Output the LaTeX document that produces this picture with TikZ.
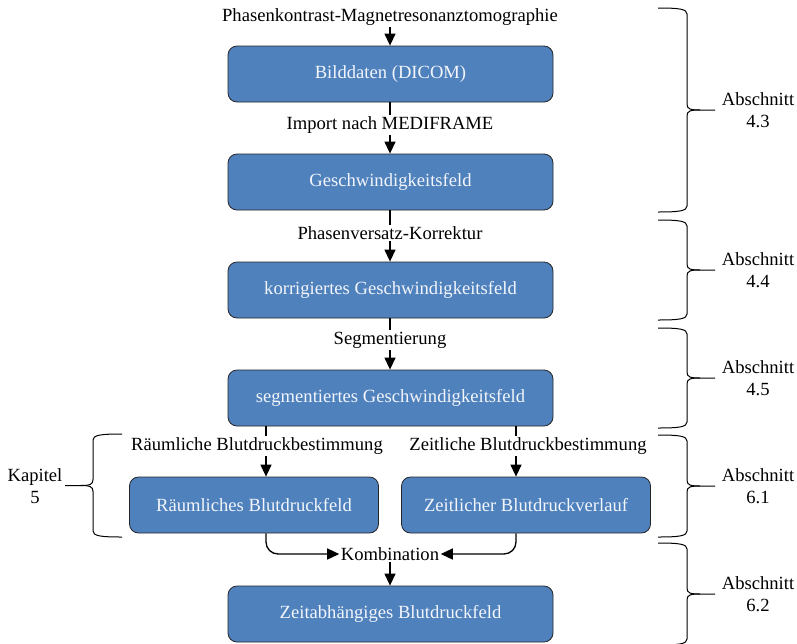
\documentclass[tikz,border=0pt]{standalone}
\usepackage{fontspec}
\setmainfont{Liberation Serif}
\usetikzlibrary{arrows.meta}
\definecolor{boxblue}{HTML}{4F81BD}
\definecolor{boxtext}{HTML}{F2F5FA}
\newcommand\fs{\fontsize{18.6}{21.5}\selectfont}
\newcommand\rbr[5]{%
  \pgfmathsetmacro\ym{(#4+#5)/2}%
  \pgfmathsetmacro\dd{(#3>#2)?1:-1}%
  \draw[bracestyle] (#1,#4) .. controls (#2-8*\dd,#4) and (#2,#4+1) .. (#2,#4+6)
     -- (#2,\ym-6) .. controls (#2,\ym-1) and (#2+3*\dd,\ym) .. (#2+13*\dd,\ym) -- (#3,\ym);
  \draw[bracestyle] (#1,#5) .. controls (#2-8*\dd,#5) and (#2,#5-1) .. (#2,#5-6)
     -- (#2,\ym+6) .. controls (#2,\ym+1) and (#2+3*\dd,\ym) .. (#2+13*\dd,\ym);
}
\begin{document}
\begin{tikzpicture}[x=1pt,y=-1pt,
  bigbox/.style={draw=black!85, fill=boxblue, rounded corners=9pt, minimum width=325pt,
     minimum height=56pt, text=boxtext, font=\fs, line width=0.8pt, inner sep=0pt},
  smallbox/.style={bigbox, minimum width=249pt},
  lab/.style={font=\fs, inner sep=1.5pt},
  sect/.style={font=\fs, align=center, inner sep=0pt},
  conn/.style={line width=1.3pt},
  arr/.style={line width=1.3pt, -{Triangle[length=12pt,width=11pt]}},
  bracestyle/.style={line width=1pt}]
\useasboundingbox (0,0) rectangle (797,643);
\clip (0,0) rectangle (797,643);

% labels
\node[lab] (l1) at (390,17) {Phasenkontrast-Magnetresonanztomographie};
\node[lab] (l2) at (390,125) {Import nach MEDIFRAME};
\node[lab] (l3) at (390,233) {Phasenversatz-Korrektur};
\node[lab] (l4) at (390,340) {Segmentierung};
\node[lab] (l5a) at (257,446) {Räumliche Blutdruckbestimmung};
\node[lab] (l5b) at (528,446) {Zeitliche Blutdruckbestimmung};
\node[lab] (l6) at (390,554) {Kombination};

% boxes
\node[bigbox] (b1) at (390.5,74) {Bilddaten (DICOM)};
\node[bigbox] (b2) at (390.5,182) {Geschwindigkeitsfeld};
\node[bigbox] (b3) at (390.5,290) {korrigiertes Geschwindigkeitsfeld};
\node[bigbox] (b4) at (390.5,398) {segmentiertes Geschwindigkeitsfeld};
\node[smallbox] (b5a) at (254,505) {Räumliches Blutdruckfeld};
\node[smallbox] (b5b) at (526,505) {Zeitlicher Blutdruckverlauf};
\node[bigbox] (b6) at (390.5,614) {Zeitabhängiges Blutdruckfeld};

\coordinate (ax1) at (266,0);
\coordinate (ax2) at (516,0);

% connectors
\draw[arr] (l1.south) -- (b1.north -| l1.south);
\draw[conn] (b1.south -| l2.north) -- (l2.north);
\draw[arr] (l2.south) -- (b2.north -| l2.south);
\draw[conn] (b2.south -| l3.north) -- (l3.north);
\draw[arr] (l3.south) -- (b3.north -| l3.south);
\draw[conn] (b3.south -| l4.north) -- (l4.north);
\draw[arr] (l4.south) -- (b4.north -| l4.south);
\draw[conn] (b4.south -| ax1) -- (l5a.north -| ax1);
\draw[conn] (b4.south -| ax2) -- (l5b.north -| ax2);
\draw[arr] (l5a.south -| ax1) -- (b5a.north -| ax1);
\draw[arr] (l5b.south -| ax2) -- (b5b.north -| ax2);
\draw[arr, rounded corners=12pt] (b5a.south -| ax1) |- (l6.west);
\draw[arr, rounded corners=12pt] (b5b.south -| ax2) |- (l6.east);
\draw[arr] (l6.south) -- (b6.north -| l6.south);

% braces
\rbr{658}{687}{715}{8}{212}
\rbr{658}{687}{715}{220}{320}
\rbr{658}{687}{715}{328}{428}
\rbr{658}{687}{715}{435}{537}
\rbr{658}{687}{715}{543}{645}
\rbr{122}{93}{65}{434}{537}

\node[sect] (s1) at (758,110) {Abschnitt\\4.3};
\node[sect] (s2) at (758,270) {Abschnitt\\4.4};
\node[sect] (s3) at (758,378) {Abschnitt\\4.5};
\node[sect] (s4) at (758,486) {Abschnitt\\6.1};
\node[sect] (s5) at (758,594) {Abschnitt\\6.2};
\node[sect] (k5) at (35,486) {Kapitel\\5};
\end{tikzpicture}
\end{document}
